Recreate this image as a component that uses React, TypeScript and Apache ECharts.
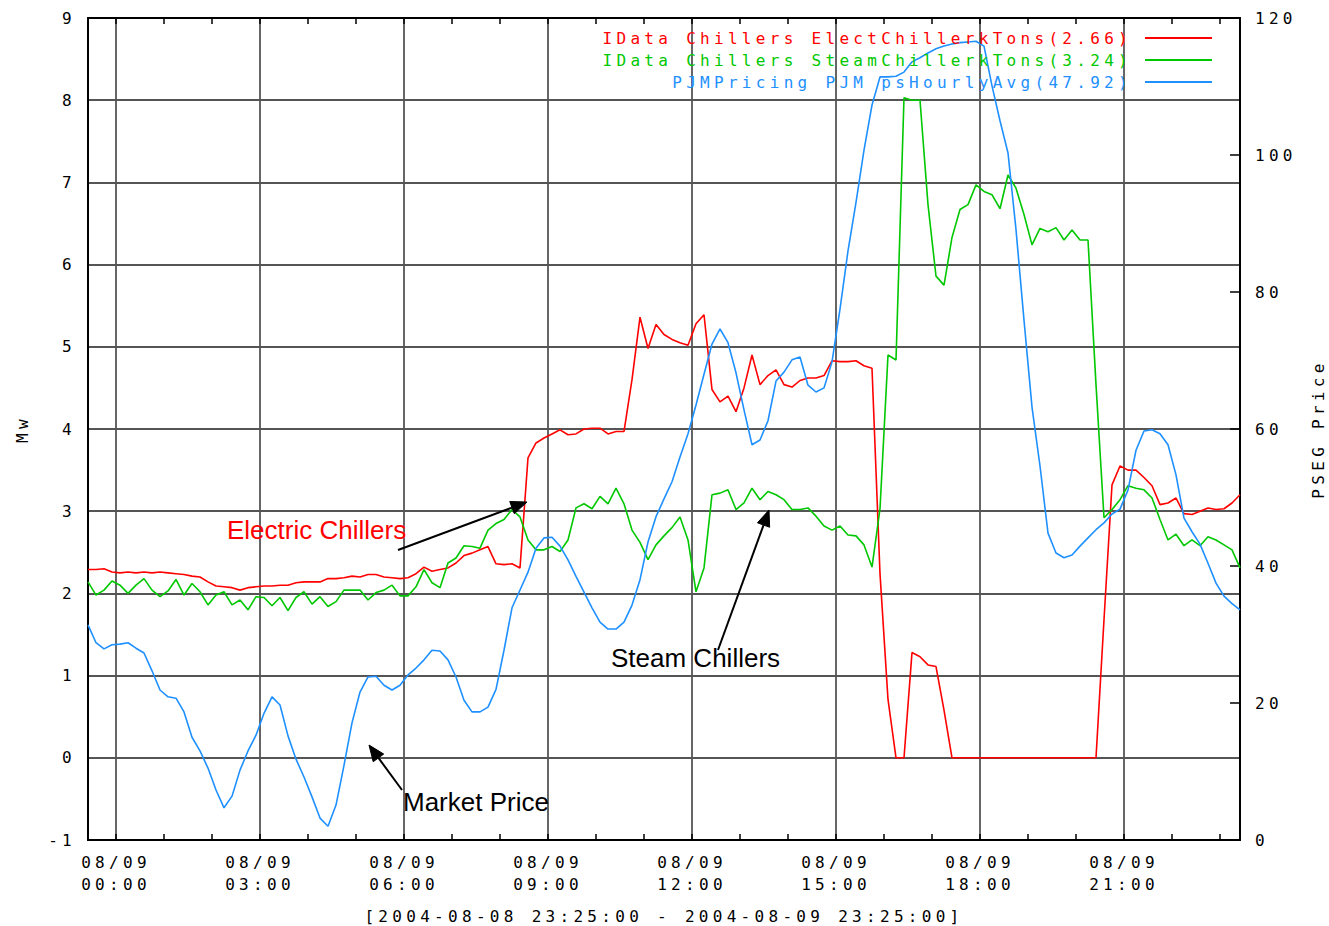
import React, { useEffect, useRef } from "react";
import * as echarts from "echarts";

// Sampling grid: minutes relative to 08/09 00:00 (first sample = 08/08 23:25), one sample every 10 minutes
const START_MIN = -35;
const STEP_MIN = 10;

// IData Chillers ElectChillerkTons (Mw, left axis)
const electChillerMw = [
  2.29, 2.29, 2.30, 2.26, 2.25, 2.26, 2.25, 2.26, 2.25, 2.26,
  2.25, 2.24, 2.23, 2.21, 2.20, 2.14, 2.09, 2.08, 2.07, 2.04,
  2.07, 2.08, 2.09, 2.09, 2.10, 2.10, 2.13, 2.14, 2.14, 2.14,
  2.18, 2.18, 2.19, 2.21, 2.20, 2.23, 2.23, 2.20, 2.19, 2.18,
  2.19, 2.24, 2.32, 2.27, 2.29, 2.31, 2.37, 2.46, 2.49, 2.53,
  2.57, 2.36, 2.35, 2.36, 2.31, 3.65, 3.83, 3.89, 3.94, 3.99,
  3.93, 3.94, 4.00, 4.01, 4.01, 3.94, 3.97, 3.97, 4.60, 5.36,
  4.98, 5.27, 5.15, 5.09, 5.05, 5.02, 5.28, 5.39, 4.48, 4.33,
  4.40, 4.21, 4.50, 4.90, 4.54, 4.65, 4.72, 4.54, 4.51, 4.59,
  4.62, 4.62, 4.65, 4.83, 4.82, 4.82, 4.83, 4.77, 4.74, 2.24,
  0.71, 0, 0, 1.28, 1.23, 1.13, 1.11, 0.58, 0, 0,
  0, 0, 0, 0, 0, 0, 0, 0, 0, 0,
  0, 0, 0, 0, 0, 0, 0, 1.68, 3.32, 3.55,
  3.50, 3.50, 3.41, 3.31, 3.08, 3.10, 3.16, 2.97, 2.96, 3.00,
  3.04, 3.02, 3.03, 3.10, 3.20,
];

// IData Chillers SteamChillerkTons (Mw, left axis)
const steamChillerMw = [
  2.14, 1.98, 2.04, 2.15, 2.10, 2.00, 2.10, 2.18, 2.04, 1.96,
  2.03, 2.17, 1.98, 2.12, 2.02, 1.86, 1.98, 2.02, 1.86, 1.92,
  1.80, 1.96, 1.95, 1.85, 1.95, 1.79, 1.95, 2.02, 1.87, 1.96,
  1.84, 1.90, 2.04, 2.04, 2.04, 1.92, 2.01, 2.04, 2.10, 1.97,
  1.97, 2.08, 2.29, 2.13, 2.07, 2.37, 2.43, 2.58, 2.57, 2.55,
  2.77, 2.85, 2.90, 3.02, 2.93, 2.65, 2.53, 2.53, 2.57, 2.51,
  2.65, 3.04, 3.09, 3.03, 3.18, 3.09, 3.28, 3.09, 2.77, 2.62,
  2.41, 2.59, 2.70, 2.80, 2.93, 2.65, 2.02, 2.31, 3.20, 3.22,
  3.26, 3.02, 3.10, 3.28, 3.14, 3.24, 3.20, 3.14, 3.02, 3.02,
  3.04, 2.94, 2.82, 2.77, 2.82, 2.71, 2.70, 2.59, 2.32, 3.03,
  4.90, 4.84, 8.03, 8.00, 8.00, 6.73, 5.86, 5.75, 6.33, 6.67,
  6.73, 6.97, 6.89, 6.85, 6.68, 7.09, 6.93, 6.61, 6.24, 6.44,
  6.40, 6.45, 6.30, 6.42, 6.30, 6.30, 4.54, 2.92, 3.02, 3.14,
  3.31, 3.28, 3.26, 3.16, 2.90, 2.65, 2.72, 2.58, 2.65, 2.58,
  2.69, 2.65, 2.59, 2.53, 2.31,
];

// PJMPricing PJM psHourlyAvg (PSEG Price, right axis)
const pjmHourlyPrice = [
  31.4, 28.8, 27.9, 28.5, 28.6, 28.8, 28.0, 27.3, 24.7, 21.9,
  20.9, 20.7, 18.7, 15.0, 13.0, 10.5, 7.3, 4.7, 6.4, 10.2,
  13.0, 15.3, 18.5, 20.9, 19.7, 15.2, 11.8, 9.2, 6.3, 3.2,
  2.0, 5.1, 10.9, 17.1, 21.6, 23.8, 23.9, 22.6, 21.9, 22.6,
  24.1, 25.1, 26.3, 27.7, 27.6, 26.3, 23.8, 20.4, 18.7, 18.7,
  19.4, 22.0, 27.7, 33.9, 36.5, 39.1, 42.6, 44.1, 44.2, 42.9,
  40.9, 38.5, 36.2, 33.9, 31.8, 30.8, 30.8, 31.8, 34.3, 38.0,
  43.5, 47.2, 49.8, 52.3, 55.9, 59.3, 63.5, 68.0, 72.4, 74.6,
  72.6, 68.2, 62.8, 57.7, 58.4, 61.2, 67.0, 68.3, 70.1, 70.5,
  66.4, 65.4, 66.0, 69.8, 77.5, 86.0, 93.1, 100.7, 107.3, 111.4,
  111.4, 111.5, 112.1, 113.6, 114.2, 114.9, 115.5, 115.9, 116.2, 116.4,
  116.5, 116.6, 115.9, 110.1, 105.0, 100.3, 89.1, 75.9, 63.2, 54.6,
  44.8, 41.9, 41.2, 41.6, 42.9, 44.1, 45.3, 46.3, 47.6, 48.3,
  51.1, 56.9, 59.7, 59.9, 59.3, 57.7, 53.3, 47.0, 45.0, 43.2,
  40.4, 37.5, 35.6, 34.5, 33.6,
];

const seriesNames = [
  "IData Chillers ElectChillerkTons(2.66)",
  "IData Chillers SteamChillerkTons(3.24)",
  "PJMPricing PJM psHourlyAvg(47.92)",
];
const seriesColors = ["#ff0000", "#00c800", "#1e90ff"];

// x axis ticks (minutes from 08/09 00:00)
const hourTicks = [
  0, 60, 120, 180, 240, 300, 360, 420, 480, 540, 600, 660,
  720, 780, 840, 900, 960, 1020, 1080, 1140, 1200, 1260, 1320, 1380,
];
const labelTicks = [0, 180, 360, 540, 720, 900, 1080, 1260];
const labelDates = ["08/09", "08/09", "08/09", "08/09", "08/09", "08/09", "08/09", "08/09"];
const labelTimes = ["00:00", "03:00", "06:00", "09:00", "12:00", "15:00", "18:00", "21:00"];
const rangeTitle = "[2004-08-08 23:25:00 - 2004-08-09 23:25:00]";

const MONO = '"DejaVu Sans Mono", monospace';
const SANS = '"Liberation Sans", Arial, sans-serif';
const GRID_COLOR = "#555";

function toPairs(values: number[]) {
  return values.map((v, i) => [START_MIN + i * STEP_MIN, v]);
}

function arrow(tail: number[], tip: number[], len: number, half: number) {
  const dx = tip[0] - tail[0];
  const dy = tip[1] - tail[1];
  const d = Math.sqrt(dx * dx + dy * dy);
  const ux = dx / d;
  const uy = dy / d;
  const bx = tip[0] - ux * len;
  const by = tip[1] - uy * len;
  const px = -uy * half;
  const py = ux * half;
  return [
    {
      type: "line",
      z: 100,
      shape: { x1: tail[0], y1: tail[1], x2: bx, y2: by },
      style: { stroke: "#000", lineWidth: 2 },
    },
    {
      type: "polygon",
      z: 100,
      shape: { points: [[tip[0], tip[1]], [bx + px, by + py], [bx - px, by - py]] },
      style: { fill: "#000", stroke: "#000", lineWidth: 1 },
    },
  ];
}

export default function App() {
  const ref = useRef<HTMLDivElement>(null);

  useEffect(() => {
    if (!ref.current) return;
    const chart = echarts.init(ref.current, null, { renderer: "svg" });

    const monoText = { fontFamily: MONO, fontSize: 16, color: "#000" };
    const axisLine = { show: true, onZero: false, lineStyle: { color: "#000", width: 2 } };
    const xCommon = { type: "value", min: -35, max: 1405, gridIndex: 0 };

    const option: any = {
      animation: false,
      backgroundColor: "#fff",
      grid: {
        left: 88,
        right: 89,
        top: 18,
        bottom: 86,
        show: true,
        borderColor: "#000",
        borderWidth: 2,
        containLabel: false,
        outerBoundsMode: "none",
      },
      legend: {
        orient: "vertical",
        right: 117,
        top: 30,
        padding: 0,
        align: "right",
        icon: "rect",
        itemWidth: 67,
        itemHeight: 2,
        itemGap: 6,
        selectedMode: false,
        textStyle: { fontFamily: MONO, fontSize: 16, lineHeight: 16, padding: [0, 8, 0, 0] },
        data: seriesNames.map((name, i) => ({ name, textStyle: { color: seriesColors[i] } })),
      },
      xAxis: [
        {
          ...xCommon,
          position: "bottom",
          axisLine,
          axisTick: { show: true, inside: true, length: 6, customValues: hourTicks, lineStyle: { color: "#000", width: 1.5 } },
          axisLabel: {
            ...monoText,
            margin: 11,
            lineHeight: 22,
            customValues: labelTicks,
            formatter: (v: number) => {
              const i = labelTicks.indexOf(Math.round(v));
              return i < 0 ? "" : `${labelDates[i]}\n${labelTimes[i]}`;
            },
          },
          splitLine: { show: false },
          name: rangeTitle,
          nameLocation: "middle",
          nameGap: 68,
          nameTextStyle: { ...monoText },
        },
        {
          ...xCommon,
          position: "top",
          axisLine,
          axisTick: { show: true, inside: true, length: 6, customValues: hourTicks, lineStyle: { color: "#000", width: 1.5 } },
          axisLabel: { show: false },
          splitLine: { show: false },
        },
        {
          ...xCommon,
          position: "bottom",
          axisLine: { show: false, onZero: false },
          axisTick: { show: false, customValues: labelTicks },
          axisLabel: { show: false, customValues: labelTicks },
          splitLine: { show: true, lineStyle: { color: GRID_COLOR, width: 1.8 } },
        },
      ],
      yAxis: [
        {
          type: "value",
          position: "left",
          min: -1,
          max: 9,
          interval: 1,
          axisLine,
          axisTick: { show: false },
          axisLabel: { ...monoText, margin: 12 },
          splitLine: { show: true, lineStyle: { color: GRID_COLOR, width: 1.8 } },
          name: "Mw",
          nameLocation: "middle",
          nameRotate: 90,
          nameGap: 58,
          nameTextStyle: { ...monoText },
        },
        {
          type: "value",
          position: "right",
          min: 0,
          max: 120,
          interval: 20,
          axisLine,
          axisTick: { show: true, inside: true, length: 10, lineStyle: { color: "#000", width: 1.5 } },
          axisLabel: { ...monoText, margin: 15 },
          splitLine: { show: false },
          name: "PSEG Price",
          nameLocation: "middle",
          nameRotate: 90,
          nameGap: 70,
          nameTextStyle: { ...monoText },
        },
      ],
      series: [
        {
          name: seriesNames[0],
          type: "line",
          xAxisIndex: 0,
          yAxisIndex: 0,
          data: toPairs(electChillerMw),
          showSymbol: false,
          symbol: "none",
          lineStyle: { color: seriesColors[0], width: 1.6 },
          itemStyle: { color: seriesColors[0] },
        },
        {
          name: seriesNames[1],
          type: "line",
          xAxisIndex: 0,
          yAxisIndex: 0,
          data: toPairs(steamChillerMw),
          showSymbol: false,
          symbol: "none",
          lineStyle: { color: seriesColors[1], width: 1.6 },
          itemStyle: { color: seriesColors[1] },
        },
        {
          name: seriesNames[2],
          type: "line",
          xAxisIndex: 0,
          yAxisIndex: 1,
          data: toPairs(pjmHourlyPrice),
          showSymbol: false,
          symbol: "none",
          lineStyle: { color: seriesColors[2], width: 1.6 },
          itemStyle: { color: seriesColors[2] },
        },
      ],
      graphic: [
        {
          type: "text",
          z: 100,
          x: 227,
          y: 530,
          style: { text: "Electric Chillers", fill: "#ff0000", font: `26px ${SANS}`, textVerticalAlign: "middle", verticalAlign: "middle" },
        },
        {
          type: "text",
          z: 100,
          x: 611,
          y: 658,
          style: { text: "Steam Chillers", fill: "#000", font: `26px ${SANS}`, textVerticalAlign: "middle", verticalAlign: "middle" },
        },
        {
          type: "text",
          z: 100,
          x: 403,
          y: 802,
          style: { text: "Market Price", fill: "#000", font: `26px ${SANS}`, textVerticalAlign: "middle", verticalAlign: "middle" },
        },
        ...arrow([398, 550], [527, 502], 16, 6.5),
        ...arrow([718, 650], [769, 510], 16, 6.5),
        ...arrow([402, 790], [369, 745], 16, 6.5),
      ],
    };

    chart.setOption(option);
    return () => chart.dispose();
  }, []);

  return (
    <>
      <style>{`.rs-chart text[style*="Mono"], .rs-chart text[font-family*="Mono"] { letter-spacing: 4.3px; }`}</style>
      <div
        ref={ref}
        className="rs-chart"
        style={{ position: "absolute", left: 0, top: 0, width: 1329, height: 926 }}
      />
    </>
  );
}
